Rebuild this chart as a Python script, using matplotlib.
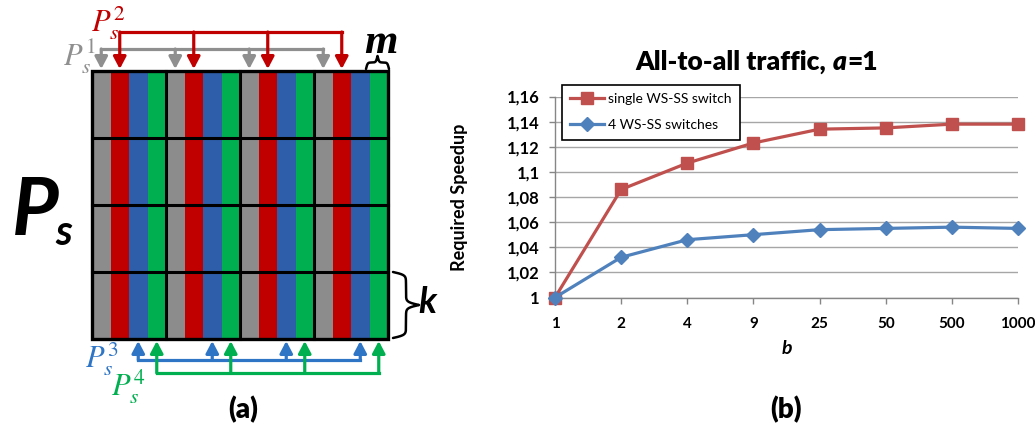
import numpy as np
import matplotlib
matplotlib.use('Agg')
import matplotlib.pyplot as plt
from matplotlib.patches import Rectangle
from matplotlib.ticker import FuncFormatter

plt.rcParams['font.family'] = ['Lato', 'DejaVu Sans']

# --- chart (b) data
b_values = ['1', '2', '4', '9', '25', '50', '500', '1000']
single_switch = [1.000, 1.086, 1.107, 1.123, 1.134, 1.135, 1.138, 1.138]
four_switches = [1.000, 1.032, 1.046, 1.050, 1.054, 1.055, 1.056, 1.055]
y_ticks = [1.00, 1.02, 1.04, 1.06, 1.08, 1.10, 1.12, 1.14, 1.16]
series_labels = ['single WS-SS switch', '4 WS-SS switches']

# --- diagram (a) data
stripe_colors = ['#8c8c8c', '#c00000', '#2e5ea9', '#00b050']
arrow_colors = ['#8f8f8f', '#c00000', '#2e75c6', '#00b050']
subset_labels = [r'$P_s^1$', r'$P_s^2$', r'$P_s^3$', r'$P_s^4$']
n_groups = 4
n_rows = 4

W, H = 1035, 429
fig = plt.figure(figsize=(W / 100, H / 100), dpi=100)
fig.patch.set_facecolor('white')

# overlay axes in pixel coordinates for the diagram
dg = fig.add_axes([0, 0, 1, 1])
dg.set_xlim(0, W)
dg.set_ylim(H, 0)
dg.axis('off')

x0, x1, y0, y1 = 92, 388, 71, 339
n_stripes = n_groups * len(stripe_colors)
sw = (x1 - x0) / n_stripes
row_h = (y1 - y0) / n_rows

for k in range(n_stripes):
    col = stripe_colors[k % len(stripe_colors)]
    dg.add_patch(Rectangle((x0 + k * sw, y0), sw, y1 - y0, facecolor=col,
                           edgecolor='none', zorder=1))

# black grid lines
for r in range(1, n_rows):
    yy = y0 + r * row_h
    dg.plot([x0, x1], [yy, yy], color='black', lw=2.2, zorder=2)
for g in range(1, n_groups):
    xx = x0 + g * len(stripe_colors) * sw
    dg.plot([xx, xx], [y0, y1], color='black', lw=2.2, zorder=2)
dg.add_patch(Rectangle((x0, y0), x1 - x0, y1 - y0, facecolor='none',
                       edgecolor='black', lw=2.4, zorder=3))


def draw_bus(stripe, line_y, tip_y, color):
    xs = [x0 + (g * len(stripe_colors) + stripe + 0.5) * sw for g in range(n_groups)]
    dg.plot([xs[0], xs[-1]], [line_y, line_y], color=color, lw=2.3,
            solid_capstyle='projecting', zorder=4)
    for xx in xs:
        dg.annotate('', xy=(xx, tip_y), xytext=(xx, line_y),
                    arrowprops=dict(arrowstyle='-|>,head_length=0.36,head_width=0.19',
                                    color=color, lw=2.3, shrinkA=0, shrinkB=0,
                                    mutation_scale=20),
                    zorder=4)


draw_bus(0, 49, 69, arrow_colors[0])
draw_bus(1, 32, 69, arrow_colors[1])
draw_bus(2, 360, 341, arrow_colors[2])
draw_bus(3, 373, 341, arrow_colors[3])

label_pos = [(63, 65), (91, 32), (85, 368), (111, 395)]
for lab, (lx, ly), col in zip(subset_labels, label_pos, arrow_colors):
    dg.text(lx, ly, lab, color=col, fontsize=22, ha='left', va='baseline',
            math_fontfamily='stix')

# big P_s
dg.text(12, 235, 'P', fontsize=58, fontweight='bold', fontstyle='italic',
        ha='left', va='baseline')
dg.text(55, 245, 's', fontsize=30, fontweight='bold', fontstyle='italic',
        ha='left', va='baseline')


def brace(xa, ya, xb, yb, width, beta=40.0):
    # curly brace from (xa, ya) to (xb, yb), bulging by width to the left of travel
    half = np.linspace(0, 0.5, 120)
    h = 1 / (1 + np.exp(-beta * half)) + 1 / (1 + np.exp(-beta * (half - 0.5))) - 0.5
    u = np.concatenate([half, 1 - half[::-1]])
    d = np.concatenate([h, h[::-1]])
    dx, dy = xb - xa, yb - ya
    L = np.hypot(dx, dy)
    nx, ny = dy / L, -dx / L
    px = xa + u * dx + d * width * nx
    py = ya + u * dy + d * width * ny
    dg.plot(px, py, color='black', lw=1.8, zorder=4, solid_capstyle='round')


brace(366, 69, 389, 69, 13, beta=30)
brace(393, 272, 393, 338, 26, beta=45)

dg.text(364, 53, 'm', fontsize=31, fontweight='bold', fontstyle='italic',
        family='Liberation Serif', ha='left', va='baseline')
dg.text(418, 313, 'k', fontsize=26, fontweight='bold', fontstyle='italic',
        ha='left', va='baseline')

fig.text(243 / W, 1 - 410 / H, '(a)', fontsize=20, fontweight='heavy',
         ha='center', va='center')

# --- chart (b)
ax = fig.add_axes([555 / W, (H - 297.5) / H, (1018 - 555) / W, (297.5 - 96.5) / H])
ax.set_facecolor('none')
xpos = np.arange(len(b_values))
red, blue = '#c0504d', '#4f81bd'
ax.plot(xpos, single_switch, color=red, lw=2.3, marker='s', markersize=9,
        label=series_labels[0], clip_on=False, zorder=3)
ax.plot(xpos, four_switches, color=blue, lw=2.3, marker='D', markersize=7.5,
        label=series_labels[1], clip_on=False, zorder=4)

ax.set_xlim(0, len(b_values) - 1)
ax.set_ylim(y_ticks[0], y_ticks[-1])
ax.set_xticks(xpos)
ax.set_xticklabels(b_values)
ax.set_yticks(y_ticks)
ax.yaxis.set_major_formatter(FuncFormatter(lambda v, p: f'{v:g}'.replace('.', ',')))
ax.grid(axis='y', color='#a6a6a6', lw=1.0)
ax.set_axisbelow(True)
for s in ['top', 'right']:
    ax.spines[s].set_visible(False)
for s in ['left', 'bottom']:
    ax.spines[s].set_color('#868686')
    ax.spines[s].set_linewidth(1.0)
ax.tick_params(axis='both', colors='#868686', length=4, width=1.0,
               labelcolor='black')
ax.tick_params(axis='y', pad=7, labelsize=12)
ax.tick_params(axis='x', pad=10, labelsize=11)
for t in ax.get_xticklabels() + ax.get_yticklabels():
    t.set_fontweight('bold')

ax.set_ylabel('Required Speedup', fontsize=13, fontweight='bold')
ax.yaxis.set_label_coords((468 - 555) / 463, 0.5)
ax.set_xlabel('b', fontsize=14, fontweight='bold', fontstyle='italic')
ax.xaxis.set_label_coords(0.5, -(340 - 297.5) / 201)

leg = ax.legend(loc='upper left', bbox_to_anchor=(562 / W, 1 - 85 / H),
                bbox_transform=fig.transFigure, fancybox=False, framealpha=1,
                edgecolor='black', borderaxespad=0, fontsize=10, handlelength=2.4,
                labelspacing=1.0, borderpad=0.6, handletextpad=0.3)
leg.get_frame().set_linewidth(1.2)

# title in three pieces so that only "a" is italic
tkw = dict(fontsize=19, fontweight='heavy', va='baseline', ha='left')
t1 = fig.text(638 / W, 1 - 70 / H, 'All-to-all traffic,', **tkw)
t2 = fig.text(0, 0, 'a', fontstyle='italic', **tkw)
t3 = fig.text(0, 0, '=1', **tkw)
fig.canvas.draw()
inv = fig.transFigure.inverted()
bb1 = t1.get_window_extent()
t2.set_position(inv.transform((bb1.x1 + 6, 0))[0:1].tolist() + [1 - 70 / H])
bb2 = t2.get_window_extent()
t3.set_position((inv.transform((bb2.x1 + 1, 0))[0], 1 - 70 / H))
bb3 = t3.get_window_extent()
shift = (757 - (bb1.x0 + bb3.x1) / 2) / W
for t in (t1, t2, t3):
    px, py = t.get_position()
    t.set_position((px + shift, py))

fig.text(786 / W, 1 - 410 / H, '(b)', fontsize=20, fontweight='heavy',
         ha='center', va='center')

fig.savefig('out.png', dpi=100, facecolor='white')
